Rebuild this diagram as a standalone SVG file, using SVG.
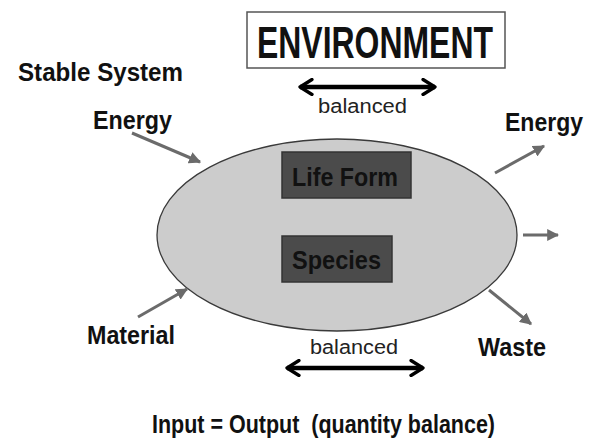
<svg xmlns="http://www.w3.org/2000/svg" width="594" height="443" viewBox="0 0 594 443">
  <style>
    .lbl { font-family: "Liberation Sans", Arial, sans-serif; font-weight: bold; fill: #111; font-size: 25px; }
    .big { font-size: 44px; }
    .bal { font-family: "Liberation Sans", Arial, sans-serif; fill: #222; font-size: 20px; }
    .flow { stroke: #6b6b6b; stroke-width: 3; fill: none; marker-end: url(#tri); }
    .twoway { stroke: #000; stroke-width: 4.5; fill: none; marker-start: url(#chevL); marker-end: url(#chevR); }
    .inner { fill: #4b4b4b; stroke: #333; stroke-width: 1.5; }
  </style>
  <defs>
    <marker id="tri" viewBox="0 0 10 10" refX="9" refY="5" markerWidth="4" markerHeight="4" orient="auto" markerUnits="strokeWidth">
      <path d="M0,0 L10,5 L0,10 Z" fill="#6b6b6b"/>
    </marker>
    <marker id="chevR" viewBox="0 0 12 12" refX="10" refY="6" markerWidth="4" markerHeight="4" orient="auto" markerUnits="strokeWidth">
      <path d="M2,1 L10,6 L2,11" fill="none" stroke="#000" stroke-width="2.2" stroke-linecap="round" stroke-linejoin="round"/>
    </marker>
    <marker id="chevL" viewBox="0 0 12 12" refX="2" refY="6" markerWidth="4" markerHeight="4" orient="auto" markerUnits="strokeWidth">
      <path d="M10,1 L2,6 L10,11" fill="none" stroke="#000" stroke-width="2.2" stroke-linecap="round" stroke-linejoin="round"/>
    </marker>
  </defs>

  <rect width="594" height="443" fill="#fff"/>

  <!-- surroundings -->
  <g id="environment">
    <rect x="247" y="12" width="258" height="56" fill="#fff" stroke="#555" stroke-width="1.5"/>
    <text class="lbl big" x="257" y="58" textLength="236" lengthAdjust="spacingAndGlyphs">ENVIRONMENT</text>
  </g>

  <g id="title">
    <text class="lbl" x="18" y="81" textLength="165" lengthAdjust="spacingAndGlyphs">Stable System</text>
  </g>

  <!-- the system itself -->
  <g id="system">
    <ellipse cx="337" cy="235" rx="180" ry="96" fill="#cccccc" stroke="#3a3a3a" stroke-width="1.3"/>
  </g>

  <g id="life-form">
    <rect class="inner" x="282" y="152" width="129" height="46"/>
    <text class="lbl" x="292" y="186" textLength="106" lengthAdjust="spacingAndGlyphs">Life Form</text>
  </g>

  <g id="species">
    <rect class="inner" x="282" y="236" width="110" height="46"/>
    <text class="lbl" x="292" y="269" textLength="89" lengthAdjust="spacingAndGlyphs">Species</text>
  </g>

  <!-- flow labels -->
  <g id="energy-in">
    <text class="lbl" x="93" y="129" textLength="79" lengthAdjust="spacingAndGlyphs">Energy</text>
  </g>
  <g id="energy-out">
    <text class="lbl" x="505" y="131" textLength="78" lengthAdjust="spacingAndGlyphs">Energy</text>
  </g>
  <g id="material-in">
    <text class="lbl" x="87" y="344" textLength="88" lengthAdjust="spacingAndGlyphs">Material</text>
  </g>
  <g id="waste-out">
    <text class="lbl" x="478" y="356" textLength="68" lengthAdjust="spacingAndGlyphs">Waste</text>
  </g>

  <g id="balance-top">
    <text class="bal" x="318" y="113" textLength="89" lengthAdjust="spacingAndGlyphs">balanced</text>
  </g>
  <g id="balance-bottom">
    <text class="bal" x="310" y="354" textLength="88" lengthAdjust="spacingAndGlyphs">balanced</text>
  </g>

  <g id="summary">
    <text class="lbl" x="152" y="433" xml:space="preserve" style="white-space:pre" textLength="343" lengthAdjust="spacingAndGlyphs">Input = Output  (quantity balance)</text>
  </g>

  <!-- connectors -->
  <g id="connectors">
    <line class="flow" x1="132" y1="133" x2="200" y2="162"/>
    <line class="flow" x1="138" y1="317" x2="187" y2="289"/>
    <line class="flow" x1="495" y1="173" x2="544" y2="146"/>
    <line class="flow" x1="523" y1="235" x2="558" y2="235"/>
    <line class="flow" x1="489" y1="290" x2="531" y2="324"/>
    <line class="twoway" x1="300" y1="87" x2="435" y2="87"/>
    <line class="twoway" x1="287" y1="368" x2="423" y2="368"/>
  </g>
</svg>
